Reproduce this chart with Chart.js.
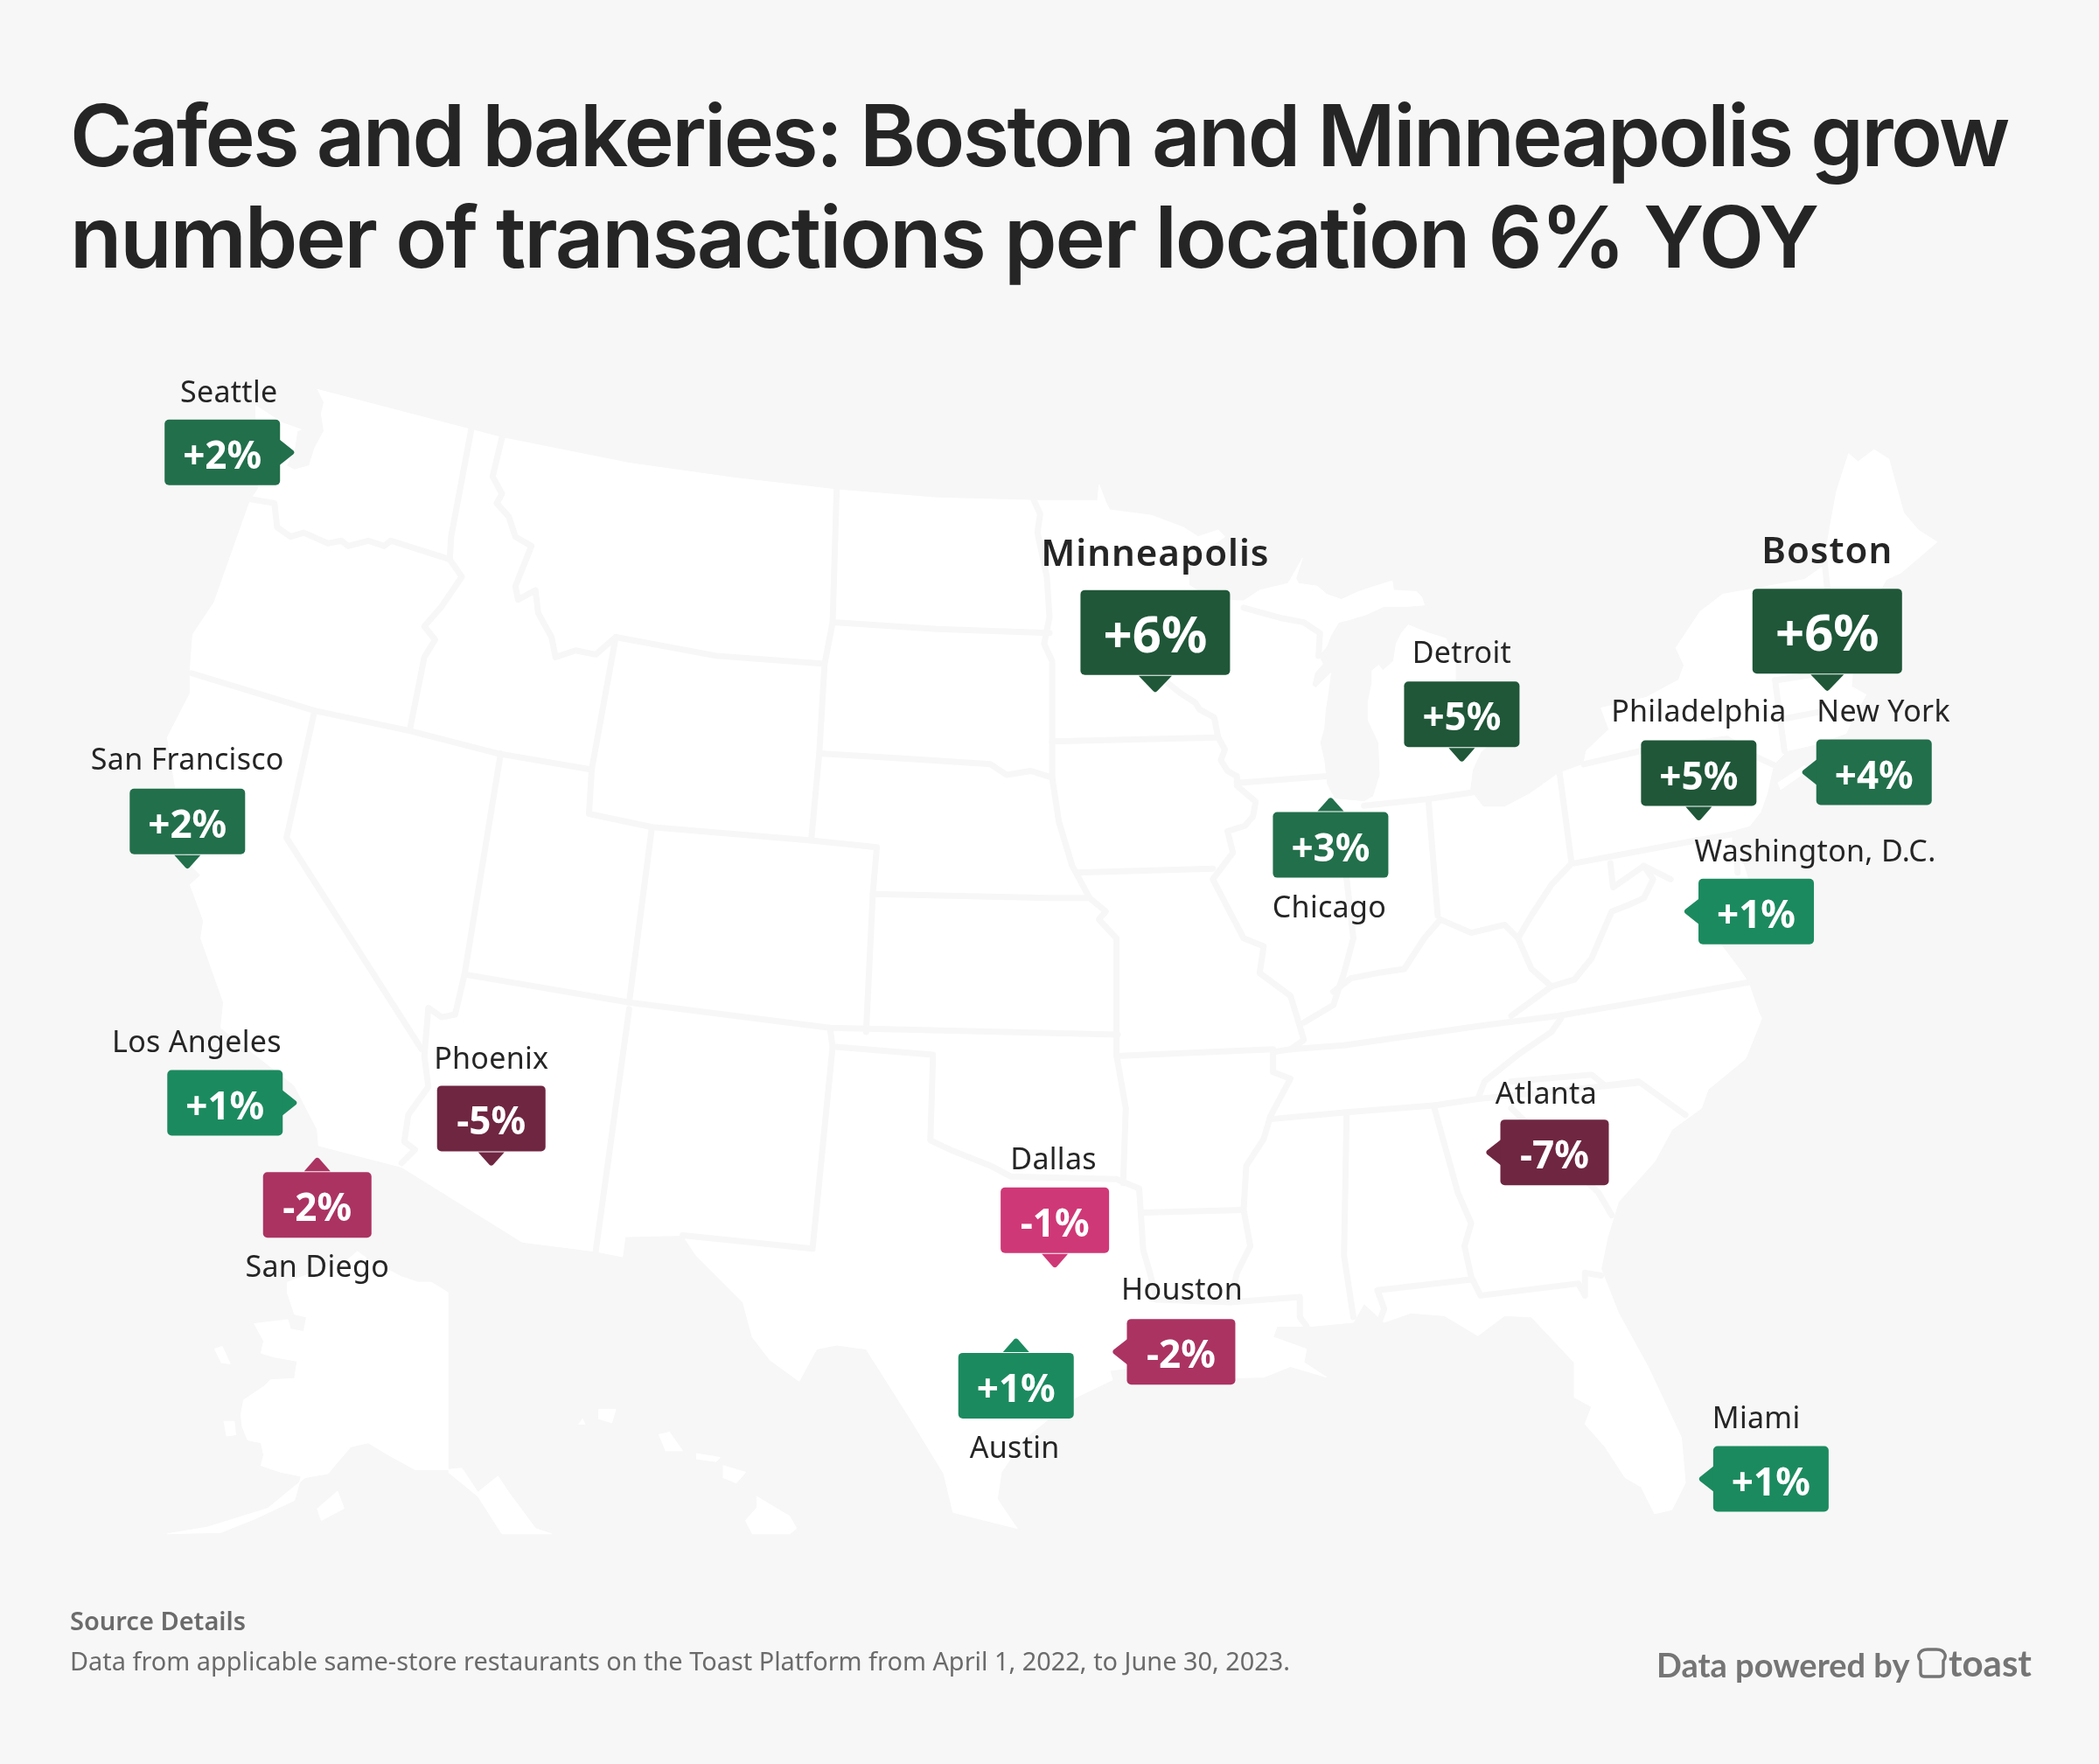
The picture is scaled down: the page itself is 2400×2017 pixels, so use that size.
<!DOCTYPE html>
<html>
<head>
<meta charset="utf-8">
<title>Cafes and bakeries</title>
<script src="https://cdn.jsdelivr.net/npm/chart.js@4"></script>
<style>
    html, body { margin: 0; padding: 0; background: #f7f7f7; }
    #wrap { position: relative; width: 2400px; height: 2017px; overflow: hidden; }
    #mapChart { position: absolute; left: 0; top: 0; }
    .txt { position: absolute; white-space: nowrap; }
    .title { left: 80px; font: 600 97px/116px "Inter", sans-serif; color: #252525; }
    #title1 { top: 97px; letter-spacing: -2.65px; }
    #title2 { top: 213px; letter-spacing: -2.1px; }
    #srcHead { left: 80px; top: 1835px; font: 600 29px/36px "Noto Sans", sans-serif; color: #6b6b6b; }
    #srcBody { left: 80px; top: 1881px; font: 400 28.9px/36px "Noto Sans", sans-serif; color: #6b6b6b; }
    #powered { left: 1894px; top: 1881px; font: 700 38px/44px "Lato", sans-serif; color: #757575; }
    #toast { left: 2228px; top: 1879px; font: 700 42px/44px "Lato", sans-serif; color: #757575; }
    #logo { position: absolute; left: 2192px; top: 1884px; }
</style>
</head>
<body>
<div id="wrap">
    <canvas id="mapChart" width="2400" height="2017"></canvas>
    <div class="txt title" id="title1">Cafes and bakeries: Boston and Minneapolis grow</div>
    <div class="txt title" id="title2">number of transactions per location 6% YOY</div>
    <div class="txt" id="srcHead">Source Details</div>
    <div class="txt" id="srcBody">Data from applicable same-store restaurants on the Toast Platform from April 1, 2022, to June 30, 2023.</div>
    <div class="txt" id="powered">Data powered by</div>
    <svg id="logo" width="34" height="36" viewBox="0 0 34 36"><path d="M8 33 H26 Q30 33 30 29 V15 Q33 12 32 8 Q30 2 22 2 H12 Q4 2 2 8 Q1 12 4 15 V29 Q4 33 8 33 Z" fill="none" stroke="#757575" stroke-width="3.4"/></svg>
    <div class="txt" id="toast">toast</div>
</div>
<script>
const cities = ["Seattle", "San Francisco", "Los Angeles", "San Diego", "Phoenix", "Dallas", "Houston", "Austin", "Atlanta", "Miami", "Minneapolis", "Boston", "Detroit", "Philadelphia", "New York", "Chicago", "Washington, D.C."];
const changes = [2, 2, 1, -2, -5, -1, -2, 1, -7, 1, 6, 6, 5, 5, 4, 3, 1];
const cityX = [219, 140, 221, 237, 367, 788, 832, 759, 1111, 1270, 863, 1365, 1092, 1269, 1347, 994, 1259];
const cityY = [338, 648, 824, 866, 870, 946, 1010, 1001, 861, 1105, 516, 515, 568, 612, 577, 597, 681];
const pointing = ["right", "down", "right", "up", "down", "down", "left", "up", "left", "left", "down", "down", "down", "down", "left", "up", "left"];
const labelX = [171, 140, 147, 237, 367, 787, 883, 758, 1155, 1312, 863, 1365, 1092, 1269, 1407, 993, 1356];
const labelY = [294, 569, 780, 948, 792, 867, 965, 1083, 818, 1061, 415, 413, 489, 533, 533, 679, 637];

const usOutline = [[237,291],[352,321],[375,327],[470,346],[548,357],[626,366],[700,372],[777,374],[820,374],[821,362],[826,375],[829,381],[860,385],[884,394],[895,401],[910,396],[915,401],[888,420],[888,437],[905,448],[929,449],[941,441],[962,436],[964,433],[973,417],[968,432],[970,436],[984,438],[991,444],[1002,448],[1015,442],[1024,439],[1040,434],[1041,441],[1058,442],[1062,446],[1064,452],[1052,453],[1034,453],[1021,459],[1008,463],[1000,465],[994,475],[991,483],[985,490],[988,496],[982,503],[980,512],[983,514],[994,503],[992,518],[990,531],[989,544],[986,555],[989,568],[991,586],[997,597],[1019,599],[1026,595],[1031,579],[1030,555],[1022,538],[1022,525],[1025,510],[1025,501],[1030,497],[1033,501],[1041,494],[1043,481],[1047,473],[1052,467],[1067,473],[1080,477],[1087,492],[1087,510],[1120,530],[1125,545],[1106,562],[1100,575],[1098,590],[1108,603],[1124,603],[1143,593],[1164,578],[1183,571],[1185,561],[1202,545],[1196,529],[1230,521],[1254,508],[1258,497],[1252,484],[1270,457],[1287,444],[1348,433],[1362,423],[1369,383],[1372,367],[1381,339],[1388,345],[1400,336],[1411,343],[1422,383],[1433,396],[1447,405],[1433,417],[1420,428],[1409,433],[1395,460],[1385,490],[1383,513],[1394,519],[1385,535],[1379,548],[1357,556],[1335,561],[1326,570],[1324,575],[1320,593],[1315,607],[1307,617],[1296,620],[1300,639],[1307,660],[1300,690],[1285,705],[1300,725],[1306,734],[1314,757],[1316,761],[1304,791],[1276,814],[1271,828],[1249,844],[1236,868],[1209,898],[1201,924],[1196,948],[1209,981],[1231,1021],[1256,1074],[1259,1108],[1249,1128],[1236,1131],[1226,1111],[1214,1104],[1199,1081],[1184,1064],[1189,1051],[1176,1044],[1176,1018],[1144,984],[1124,983],[1104,998],[1079,983],[1054,981],[1034,988],[1019,974],[1011,988],[979,991],[954,991],[951,999],[976,1008],[974,1018],[991,1029],[964,1021],[944,1029],[900,1030],[860,1020],[829,1024],[831,1031],[804,1044],[765,1075],[748,1100],[745,1120],[755,1135],[760,1142],[712,1130],[705,1101],[680,1060],[647,1008],[625,1005],[610,1008],[597,1032],[575,1016],[562,999],[555,973],[520,938],[510,923],[467,924],[465,939],[445,935],[390,928],[300,872],[238,856],[237,844],[220,811],[165,768],[167,749],[150,701],[152,688],[142,661],[150,654],[140,644],[125,551],[142,518],[142,501],[144,474],[160,450],[182,388],[187,374],[193,365],[191,303],[211,316],[225,321],[222,322],[220,335],[214,348],[220,351],[231,348],[235,335],[242,322],[240,309],[242,301]];
const longIsland = [[1328,585],[1348,572],[1350,576],[1330,590]];
const alaska = [[335,966],[322,958],[312,958],[300,954],[275,941],[267,935],[260,941],[215,958],[215,967],[220,982],[229,984],[227,995],[217,993],[215,986],[190,989],[197,1002],[195,1011],[205,1014],[222,1017],[220,1030],[202,1031],[197,1036],[182,1046],[180,1057],[181,1066],[185,1076],[195,1078],[197,1087],[195,1095],[210,1100],[225,1103],[220,1121],[190,1135],[165,1145],[125,1146],[155,1141],[200,1127],[228,1104],[245,1101],[262,1081],[275,1078],[290,1087],[310,1098],[335,1098],[345,1097],[357,1115],[372,1103],[380,1115],[400,1142],[412,1146],[375,1146],[357,1118],[335,1100]];
const kodiak = [[252,1114],[257,1127],[240,1136],[237,1127]];
const stLawrence = [[160,1008],[166,1006],[172,1019],[165,1018]];
const nunivak = [[167,1062],[175,1062],[176,1072],[169,1073]];
const hawaiiBig = [[565,1118],[590,1133],[595,1142],[590,1146],[562,1146],[557,1136],[565,1127]];
const maui = [[540,1095],[557,1100],[550,1108],[540,1104]];
const molokai = [[520,1086],[538,1089],[535,1092],[520,1090]];
const oahu = [[492,1072],[500,1070],[510,1084],[497,1084]];
const kauai = [[447,1053],[460,1053],[457,1063],[447,1060]];
const niihau = [[435,1060],[437,1064],[432,1064]];
const landShapes = [usOutline, longIsland, alaska, kodiak, stLawrence, nunivak, hawaiiBig, maui, molokai, oahu, kauai, niihau];

const stateBorders = [
    [[187,373],[205,376],[207,394],[217,401],[227,398],[245,406],[255,404],[260,408],[275,404],[287,408],[292,404],[336,418]],
    [[352,321],[337,401],[336,418],[345,431],[330,453],[317,468],[325,478],[317,491],[306,546]],
    [[143,503],[235,531],[306,546],[372,563],[442,575]],
    [[375,327],[368,356],[375,369],[371,376],[380,386],[385,401],[397,408],[385,438],[387,448],[400,441],[402,458],[412,476],[415,491],[430,486],[445,489],[452,483],[460,476]],
    [[460,476],[442,575],[440,608],[487,618],[606,628],[655,633],[652,668],[647,771]],
    [[460,476],[535,490],[616,496]],
    [[625,366],[622,465],[616,496],[612,563],[606,628]],
    [[622,465],[700,470],[784,473]],
    [[612,563],[680,567],[740,571],[752,579],[770,576],[786,581]],
    [[487,618],[470,749]],
    [[374,563],[347,728],[340,758],[330,760],[320,753],[317,789],[320,812],[305,833],[302,853],[310,859],[300,869]],
    [[235,531],[214,626],[315,784]],
    [[347,728],[470,749],[620,768],[835,773]],
    [[620,768],[622,782],[697,788],[695,852],[712,860],[740,871],[755,879],[834,881],[851,888],[854,934],[859,951],[864,971]],
    [[622,782],[607,933],[510,923]],
    [[470,754],[445,935]],
    [[772,373],[777,384],[775,398],[782,431],[784,461],[780,481],[786,494],[786,554],[786,581],[791,614],[801,647],[814,671],[826,681],[821,687],[834,701],[834,788],[841,828],[839,884]],
    [[652,668],[784,671],[814,671]],
    [[786,554],[910,551]],
    [[872,510],[882,518],[893,525],[896,530],[907,536],[910,551],[915,560],[912,568],[917,576],[924,580],[924,587],[938,599],[936,610],[930,617],[917,621],[921,637],[906,657],[929,701],[944,707],[941,727],[964,744],[971,767],[974,777],[964,784],[951,786],[951,801],[964,806],[949,834],[944,851],[931,871],[929,904],[934,931],[924,951],[919,973],[864,971]],
    [[804,652],[906,649]],
    [[924,585],[991,580]],
    [[929,454],[958,462],[974,465],[986,473],[985,490]],
    [[834,789],[951,784]],
    [[854,906],[929,904]],
    [[919,973],[971,969],[971,984],[976,991]],
    [[964,784],[1004,781],[1109,766],[1164,759],[1234,747],[1306,734]],
    [[951,836],[1006,831],[1071,826],[1104,821],[1224,809]],
    [[1104,821],[1109,808],[1134,788],[1159,771],[1166,761]],
    [[1129,808],[1189,803],[1199,811],[1224,808],[1259,833]],
    [[1129,828],[1194,891],[1204,908]],
    [[1071,826],[1089,891],[1099,914],[1094,931],[1099,954],[1106,968],[1179,959],[1184,968],[1184,951],[1196,953]],
    [[1099,956],[1029,964],[1034,978],[1031,986]],
    [[1006,831],[1004,938],[1011,984]],
    [[994,610],[1006,657],[1011,701],[1004,727],[996,751],[974,764]],
    [[1019,602],[1067,597],[1100,592]],
    [[1067,597],[1074,684]],
    [[996,741],[1009,731],[1029,727],[1049,724],[1064,701],[1076,687],[1099,697],[1124,691],[1134,701],[1144,684],[1159,661],[1174,645],[1165,577]],
    [[1134,701],[1144,724],[1159,737],[1129,759]],
    [[1159,737],[1176,732],[1189,716],[1204,681],[1217,676],[1228,671],[1235,657],[1228,647],[1205,663],[1203,645]],
    [[1228,647],[1248,657]],
    [[1176,645],[1267,628],[1296,623],[1298,652]],
    [[1183,571],[1226,561],[1290,552],[1313,566],[1326,572]],
    [[1326,508],[1333,561]],
    [[1328,508],[1355,504],[1383,500]],
    [[1333,537],[1359,532]],
    [[1363,420],[1365,439],[1372,500]]
];

const green6 = "#1f5738";
const green3 = "#226f4b";
const green1 = "#1c8a5f";
const red1 = "#cf3876";
const red2 = "#ab3362";
const red5 = "#6f2641";

function calloutColor(v) {
    if (v >= 5) return green6;
    if (v >= 2) return green3;
    if (v >= 1) return green1;
    if (v >= -1) return red1;
    if (v >= -2) return red2;
    return red5;
}

function toPoints(list) {
    return list.map(p => ({ x: p[0], y: p[1] }));
}

function drawTip(ctx, ax, ay, tx, ty, bx, by) {
    ctx.beginPath();
    ctx.moveTo(ax, ay);
    ctx.arcTo(tx, ty, bx, by, 3);
    ctx.lineTo(bx, by);
    ctx.closePath();
    ctx.fill();
}

// boxes and names hang off the city points, so they go through the scales too
const calloutPlugin = {
    id: 'callouts',
    afterDatasetsDraw(chart) {
        const ctx = chart.ctx;
        const meta = chart.getDatasetMeta(chart.data.datasets.length - 1);
        const xs = chart.scales.x;
        const ys = chart.scales.y;
        cities.forEach((name, i) => {
            const el = meta.data[i];
            const tipX = el.x;
            const tipY = el.y;
            const value = changes[i];
            const big = value === 6;
            const w = big ? 171 : (value < 0 ? 124 : 132);
            const h = big ? 97 : 75;
            const gap = big ? 18 : 15;
            const half = big ? 19 : 15;
            let bx, by;
            ctx.fillStyle = calloutColor(value);
            if (pointing[i] === "down") {
                bx = tipX - w / 2; by = tipY - gap - h;
                drawTip(ctx, tipX - half, tipY - gap + 1, tipX, tipY + 3, tipX + half, tipY - gap + 1);
            } else if (pointing[i] === "up") {
                bx = tipX - w / 2; by = tipY + gap;
                drawTip(ctx, tipX - half, tipY + gap - 1, tipX, tipY - 3, tipX + half, tipY + gap - 1);
            } else if (pointing[i] === "right") {
                bx = tipX - gap - w; by = tipY - h / 2;
                drawTip(ctx, tipX - gap - 1, tipY - half, tipX + 3, tipY, tipX - gap - 1, tipY + half);
            } else {
                bx = tipX + gap; by = tipY - h / 2;
                drawTip(ctx, tipX + gap + 1, tipY - half, tipX - 3, tipY, tipX + gap + 1, tipY + half);
            }
            ctx.beginPath();
            ctx.roundRect(bx, by, w, h, 5);
            ctx.fill();

            ctx.fillStyle = "#ffffff";
            ctx.textAlign = "center";
            ctx.textBaseline = "middle";
            ctx.letterSpacing = "0px";
            ctx.font = (big ? "700 58px" : "700 44px") + ' "Noto Sans", sans-serif';
            ctx.fillText((value > 0 ? "+" : "") + value + "%", bx + w / 2, by + h / 2 + 6);

            ctx.fillStyle = "#252525";
            ctx.letterSpacing = big ? "1px" : "0.3px";
            ctx.font = (big ? "600 42px" : "400 34px") + ' "Noto Sans", sans-serif';
            ctx.fillText(name, xs.getPixelForValue(labelX[i]), ys.getPixelForValue(labelY[i]));
        });
    }
};

const landSets = landShapes.map(shape => ({
    data: toPoints(shape),
    showLine: true,
    fill: 'shape',
    backgroundColor: "#ffffff",
    borderColor: "#ffffff",
    borderWidth: 1,
    pointRadius: 0,
    tension: 0,
    order: 3
}));

const borderSets = stateBorders.map(line => ({
    data: toPoints(line),
    showLine: true,
    fill: false,
    borderColor: "#f7f7f7",
    borderWidth: 7,
    borderJoinStyle: 'round',
    borderCapStyle: 'round',
    pointRadius: 0,
    tension: 0,
    order: 2
}));

const citySet = {
    data: cities.map((c, i) => ({ x: cityX[i], y: cityY[i] })),
    showLine: false,
    pointRadius: 0,
    order: 1
};

new Chart(document.getElementById('mapChart'), {
    type: 'scatter',
    data: { datasets: [...landSets, ...borderSets, citySet] },
    options: {
        responsive: false,
        animation: false,
        devicePixelRatio: 1,
        layout: { padding: 0 },
        plugins: { legend: { display: false }, tooltip: { enabled: false } },
        scales: {
            x: { type: 'linear', display: false, min: 0, max: 1568 },
            y: { type: 'linear', display: false, min: 0, max: 1318, reverse: true }
        }
    },
    plugins: [calloutPlugin]
});
</script>
</body>
</html>
